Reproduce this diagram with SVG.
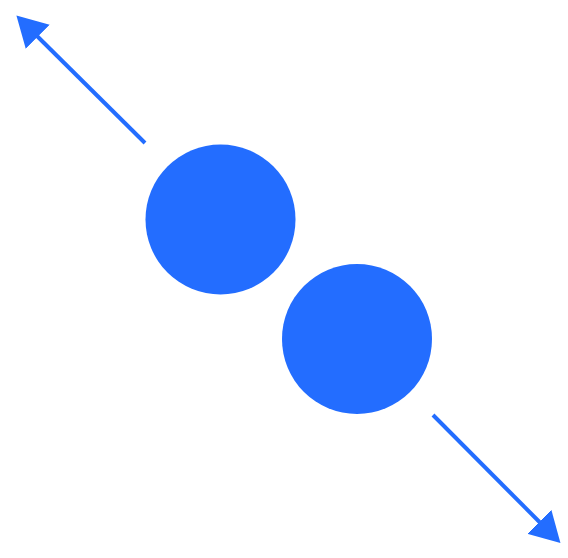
<svg xmlns="http://www.w3.org/2000/svg" width="568" height="558" viewBox="0 0 568 558">
<style>
.node{fill:#236DFF}
.conn{stroke:#236DFF;stroke-width:4;fill:none}
</style>
<defs>
<marker id="ah" markerUnits="userSpaceOnUse" markerWidth="30" markerHeight="34" viewBox="0 0 30 34" refX="1" refY="17" orient="auto">
<path d="M0,0 L30,17 L0,34 z" fill="#236DFF"/>
</marker>
</defs>
<rect width="568" height="558" fill="#fff"/>
<g id="connectors">
<line class="conn" x1="145" y1="143" x2="37" y2="36" marker-end="url(#ah)"/>
<line class="conn" x1="433" y1="415" x2="540" y2="522.5" marker-end="url(#ah)"/>
</g>
<g id="node1"><circle class="node" cx="220.5" cy="219.5" r="75"/></g>
<g id="node2"><circle class="node" cx="357" cy="339" r="75"/></g>
</svg>
